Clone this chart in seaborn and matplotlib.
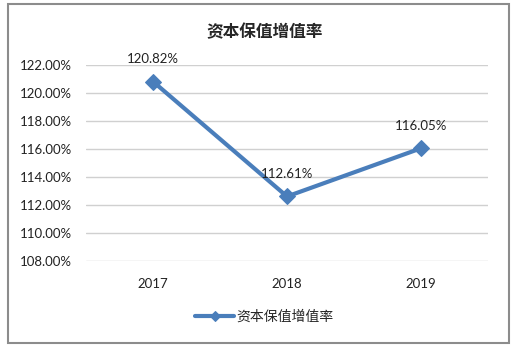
import matplotlib
matplotlib.use("Agg")
import matplotlib.pyplot as plt
import seaborn as sns
import pandas as pd
from matplotlib.patches import Rectangle
from matplotlib.ticker import FuncFormatter

years = ["2017", "2018", "2019"]
values = [120.82, 112.61, 116.05]
series_name = "资本保值增值率"
title = "资本保值增值率"

sns.set_theme(style="white")
plt.rcParams['font.family'] = ['Lato', 'Noto Sans CJK SC', 'DejaVu Sans']

df = pd.DataFrame({"year": years, "value": values, "series": series_name})

fig = plt.figure(figsize=(5.29, 3.5), dpi=100)
ax = fig.add_axes([86/529, 1-261/350, 402/529, 196/350])

color = "#4a7ebb"
sns.lineplot(data=df, x="year", y="value", hue="series", palette=[color],
             marker="D", markersize=8, linewidth=3, markeredgecolor=color,
             ax=ax, sort=False)

ax.set_xlim(-0.5, 2.5)
ax.set_ylim(108, 122)
ax.set_yticks([108, 110, 112, 114, 116, 118, 120, 122])
ax.yaxis.set_major_formatter(FuncFormatter(lambda v, p: f"{v:.2f}%"))
ax.grid(axis="y", color="#d0d0d0", linewidth=1)
ax.grid(axis="x", visible=False)
for s in ax.spines.values():
    s.set_visible(False)
ax.tick_params(axis="both", length=0, labelsize=9.5, colors="#222222")
ax.tick_params(axis="y", pad=10)
ax.tick_params(axis="x", pad=12)
ax.set_xlabel("")
ax.set_ylabel("")

for i, v in enumerate(values):
    ax.annotate(f"{v:.2f}%", (i, v), xytext=(0, 12), textcoords="offset points",
                ha="center", va="bottom", fontsize=9.5, color="#222222")

ax.legend_.remove()
handles, labels = ax.get_legend_handles_labels()
leg = fig.legend(handles, labels, loc="center", bbox_to_anchor=(0.5, 1-317/350),
                 frameon=False, handlelength=2.8, handletextpad=0.2,
                 prop={'family': ['Noto Sans CJK SC', 'DejaVu Sans'], 'size': 10})
for h in leg.legend_handles:
    h.set_markersize(5)

fig.text(0.5, 1-32/350, title, ha="center", va="center", fontsize=12,
         fontweight="bold", family=['Noto Sans CJK SC', 'DejaVu Sans'])

fig.patches.append(Rectangle((8/529, 1-343/350), 501/529, 339/350,
                             transform=fig.transFigure, fill=False,
                             edgecolor="#8c8c8c", linewidth=1.5))

fig.savefig("out.png", dpi=100)
